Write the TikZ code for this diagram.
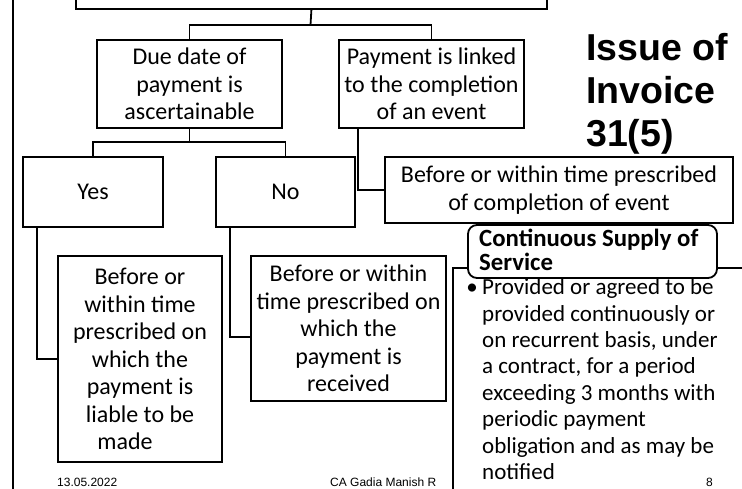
\documentclass[tikz,border=0pt]{standalone}
\usepackage{fontspec}
\setmainfont{Carlito}
\newfontfamily\arialfont{Liberation Sans}
\newcommand\bodyfont{\fontsize{24}{27.5}\selectfont}
\newcommand\bulfont{\fontsize{23}{26.4}\selectfont}
\newcommand\ttlfont{\fontsize{24.8}{24}\selectfont\bfseries}
\newcommand\bigtitlefont{\arialfont\bfseries\fontsize{37.5}{43}\selectfont}
\newcommand\footfont{\arialfont\fontsize{12}{14}\selectfont}
\tikzset{
  x=1pt, y=1pt,
  box/.style={draw, line width=1.8pt, inner sep=0pt, align=center, font=\bodyfont},
  conn/.style={line width=1.8pt},
  foot/.style={inner sep=0pt, anchor=base west, font=\footfont},
}
\begin{document}
\begin{tikzpicture}
\clip (0,0) rectangle (742,-489);
\fill[white] (0,0) rectangle (742,-489);
% left frame line
\coordinate (f1) at (12.7,10);
\coordinate (f2) at (12.7,-500);
\draw[line width=2.4pt] (f1) -- (f2);
% top box (cut off)
\node[box, minimum width=471, minimum height=40, anchor=south west] (top) at (75,-10) {};
% first level
\node[box, minimum width=185, minimum height=88] (due) at (189.5,-84) {Due date of\\payment is\\ascertainable};
\node[box, minimum width=185, minimum height=88] (pay) at (431.5,-84) {Payment is linked\\to the completion\\of an event};
% second level
\node[box, minimum width=140, minimum height=70] (yes) at (93,-192) {Yes};
\node[box, minimum width=139, minimum height=70] (no) at (285.5,-192) {No};
\node[box, minimum width=348, minimum height=66] (ev) at (559,-190) {Before or within time prescribed\\of completion of event};
% third level
\node[box, minimum width=164, minimum height=206] (lb) at (140,-359) {Before or\\within time\\prescribed on\\which the\\payment is\\liable to be\\made\hspace*{30pt}};
\node[box, minimum width=195, minimum height=145] (mb) at (348.5,-328.5) {Before or within\\time prescribed on\\which the\\payment is\\received};
% connectors
\coordinate (j1) at (310.5,-25);
\coordinate (j2) at (189.5,-142);
\draw[conn] (top.south) -- (j1);
\draw[conn] (due.north) |- (j1) -| (pay.north);
\draw[conn] (due.south) -- (j2);
\draw[conn] (yes.north) |- (j2) -| (no.north);
\draw[conn] ([xshift=-56pt]yes.south) |- (lb.west);
\draw[conn] ([xshift=-55.5pt]no.south) |- ([yshift=-8.5pt]mb.west);
\draw[conn] ([xshift=-73.5pt]pay.south) |- (ev.west);
% title
\node[inner sep=0pt, anchor=north west, align=left, font=\bigtitlefont] (title) at (586,-33) {Issue of\\Invoice\\31(5)};
% continuous supply group
\draw[conn] (453,-520) -- (453,-268) -- (760,-268) -- (760,-520);
\node[draw, fill=white, line width=1.8pt, rounded corners=9pt, minimum width=249, minimum height=53, inner sep=0pt] (cs) at (592.5,-251.5) {};
\node[inner sep=0pt, anchor=north west, align=left, font=\ttlfont] (cstext) at (479,-229) {Continuous Supply of\\Service};
\node[inner sep=0pt, anchor=base, font=\bulfont] (bul) at (472,-294.5) {•};
\node[inner sep=0pt, anchor=north west, align=left, font=\bulfont] (btext) at (482,-278.5) {Provided or agreed to be\\provided continuously or\\on recurrent basis, under\\a contract, for a period\\exceeding 3 months with\\periodic payment\\obligation and as may be\\notified};
% footer
\node[foot] (date) at (57,-486) {13.05.2022};
\node[foot] (auth) at (330,-486) {CA Gadia Manish R};
\node[foot] (pg) at (706,-486) {8};
\end{tikzpicture}
\end{document}
